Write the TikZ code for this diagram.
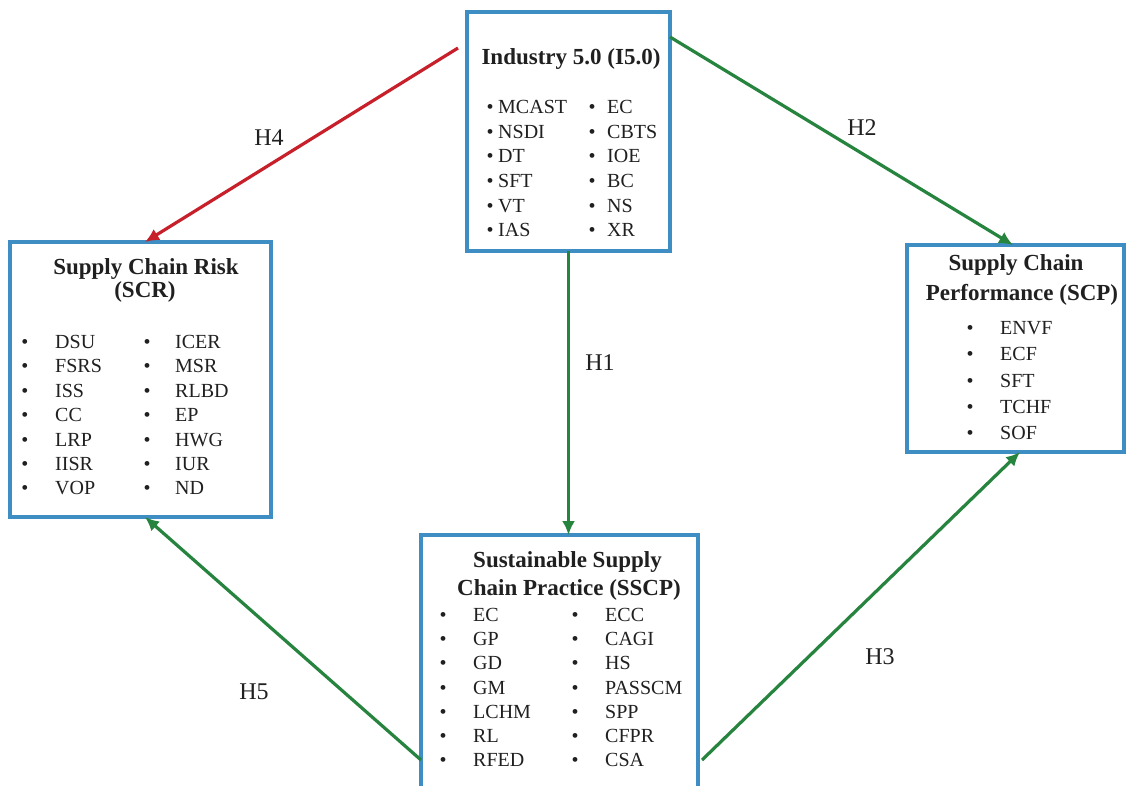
\documentclass[tikz,border=0pt]{standalone}
\usepackage{fontspec}
\setmainfont{Liberation Serif}
\usetikzlibrary{arrows.meta,calc}
\definecolor{boxblue}{RGB}{62,142,196}
\definecolor{arrgreen}{RGB}{38,132,62}
\definecolor{arrred}{RGB}{200,32,42}
\definecolor{txt}{RGB}{32,32,32}
\begin{document}
\begin{tikzpicture}[x=1pt,y=-1pt,
  box/.style={draw=boxblue,line width=3.2pt,anchor=north west,inner sep=0pt,outer sep=0pt},
  itm/.style={font=\fontsize{20}{24}\selectfont,text=txt,anchor=base west,inner sep=0pt},
  bul/.style={font=\fontsize{20}{24}\selectfont,text=txt,anchor=base,inner sep=0pt},
  ttl/.style={font=\bfseries\fontsize{23}{28}\selectfont,text=txt,anchor=base,inner sep=0pt},
  lab/.style={font=\fontsize{24}{28}\selectfont,text=txt,anchor=center,inner sep=0pt},
  arr/.style={line width=3.2pt,-{Latex[length=14pt,width=13pt]}},
  garr/.style={arr,draw=arrgreen},
  rarr/.style={arr,draw=arrred}]
\useasboundingbox (0,0) rectangle (1126,785);
\clip (0,0) rectangle (1126,785);
\fill[white] (0,0) rectangle (1126,785);
% boxes
\node[box,minimum width=203pt,minimum height=239pt] (i5) at (467,12) {};
\node[box,minimum width=261pt,minimum height=275pt] (scr) at (10,242) {};
\node[box,minimum width=217pt,minimum height=207pt] (scp) at (907,245) {};
\node[box,minimum width=277pt,minimum height=280pt] (sscp) at (421,535) {};
% Industry 5.0
\node[ttl] (i5t) at (571,64.6) {Industry 5.0 (I5.0)};
\foreach [count=\i] \t in {MCAST,NSDI,DT,SFT,VT,IAS} {
  \node[bul] (i5a\i) at (490,{113.6+24.6*(\i-1)}) {•};
  \node[itm] (i5b\i) at (498,{113.6+24.6*(\i-1)}) {\t};
}
\foreach [count=\i] \t in {EC,CBTS,IOE,BC,NS,XR} {
  \node[bul] (i5c\i) at (592,{113.6+24.6*(\i-1)}) {•};
  \node[itm] (i5d\i) at (607,{113.6+24.6*(\i-1)}) {\t};
}
% SCR
\node[ttl] (scrt1) at (146,274.6) {Supply Chain Risk};
\node[ttl] (scrt2) at (145,297.6) {(SCR)};
\foreach [count=\i] \t in {DSU,FSRS,ISS,CC,LRP,IISR,VOP} {
  \node[bul] (scra\i) at (25,{348.6+24.35*(\i-1)}) {•};
  \node[itm] (scrb\i) at (55,{348.6+24.35*(\i-1)}) {\t};
}
\foreach [count=\i] \t in {ICER,MSR,RLBD,EP,HWG,IUR,ND} {
  \node[bul] (scrc\i) at (147,{348.6+24.35*(\i-1)}) {•};
  \node[itm] (scrd\i) at (175,{348.6+24.35*(\i-1)}) {\t};
}
% SCP
\node[ttl] (scpt1) at (1016,270.6) {Supply Chain};
\node[ttl] (scpt2) at (1022,300.6) {Performance (SCP)};
\foreach [count=\i] \t in {ENVF,ECF,SFT,TCHF,SOF} {
  \node[bul] (scpa\i) at (970,{334.6+26.25*(\i-1)}) {•};
  \node[itm] (scpb\i) at (1000,{334.6+26.25*(\i-1)}) {\t};
}
% SSCP
\node[ttl] (ssct1) at (567.5,567.6) {Sustainable Supply};
\node[ttl] (ssct2) at (569,595.6) {Chain Practice (SSCP)};
\foreach [count=\i] \t in {EC,GP,GD,GM,LCHM,RL,RFED} {
  \node[bul] (ssca\i) at (443,{621.6+24.17*(\i-1)}) {•};
  \node[itm] (sscb\i) at (473,{621.6+24.17*(\i-1)}) {\t};
}
\foreach [count=\i] \t in {ECC,CAGI,HS,PASSCM,SPP,CFPR,CSA} {
  \node[bul] (sscc\i) at (575,{621.6+24.17*(\i-1)}) {•};
  \node[itm] (sscd\i) at (605,{621.6+24.17*(\i-1)}) {\t};
}
% connectors
\coordinate (h4s) at (458,48);
\coordinate (h3s) at (702,760);
\draw[rarr] (h4s) -- ($(scr.north west)+(135,0)$);
\draw[garr] ($(i5.north east)+(0,25)$) -- ($(scp.north west)+(106,0)$);
\draw[garr] (i5.south) -- (i5.south |- sscp.north);
\draw[garr] (h3s) -- ($(scp.south west)+(113,0)$);
\draw[garr] ($(sscp.north west)+(0,225)$) -- ($(scr.south west)+(135,0)$);
% labels
\node[lab] (l4) at (269,138) {H4};
\node[lab] (l2) at (862,128) {H2};
\node[lab] (l1) at (600,363) {H1};
\node[lab] (l3) at (880,657) {H3};
\node[lab] (l5) at (254,692) {H5};
\end{tikzpicture}
\end{document}
